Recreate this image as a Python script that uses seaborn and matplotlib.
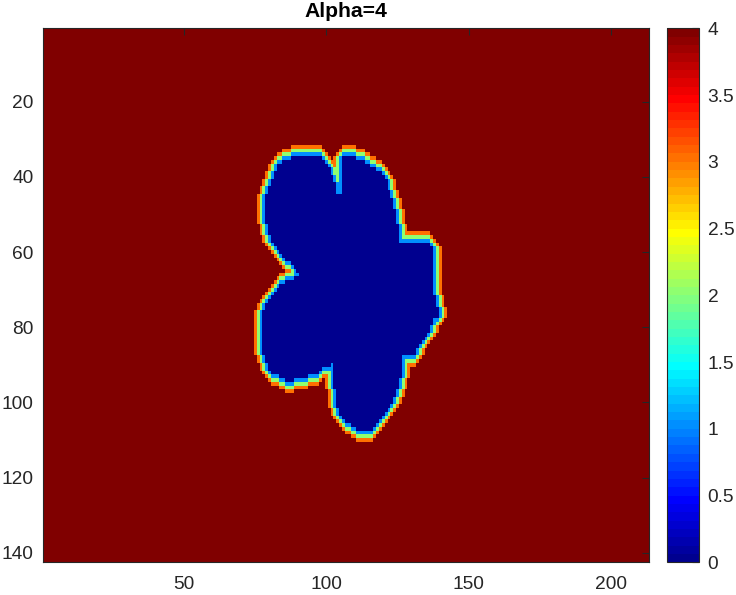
import numpy as np
import matplotlib
matplotlib.use("Agg")
import matplotlib.pyplot as plt
from matplotlib.colors import ListedColormap
from matplotlib.path import Path
import seaborn as sns

sns.set_style("white")
plt.rcParams['font.family'] = ['Liberation Sans', 'DejaVu Sans']

# grid size (rows x columns) and the value levels
n_rows = 142
n_cols = 213
inside_value = 0
outside_value = 4

# outline of the zero region (x = column, y = row)
blob_x = [89.6, 97.8, 98.9, 100.7, 101.9, 103.0, 103.6, 105.4, 105.4, 110.7,
          110.7, 114.7, 116.5, 118.8, 120.6, 121.8, 123.0, 124.1, 125.3, 125.9,
          135.8, 137.6, 137.6, 138.8, 139.3, 137.6, 136.4, 134.6, 132.3, 131.1,
          131.1, 126.5, 126.5, 125.3, 124.2, 123.0, 121.3, 119.5, 117.7, 116.0,
          112.4, 109.5, 107.2, 105.4, 104.2, 103.6, 103.0, 102.7, 102.6, 99.6,
          97.8, 94.8, 90.1, 86.1, 83.7, 81.3, 79.6, 78.4, 77.3, 77.3,
          78.4, 79.6, 81.3, 84.3, 90.5, 86.1, 83.1, 80.8, 79.6, 78.4,
          78.4, 79.6, 80.8, 81.9, 83.1, 85.4]
blob_y = [34.4, 34.4, 35.5, 37.3, 39.1, 41.7, 44.4, 44.4, 34.4, 34.4,
          35.3, 36.4, 37.3, 38.6, 39.9, 42.6, 45.3, 48.8, 53.3, 57.4,
          57.4, 59.5, 70.9, 72.8, 77.2, 78.1, 80.7, 83.0, 85.6, 86.5,
          87.8, 87.8, 92.7, 95.8, 97.6, 100.2, 102.0, 103.8, 106.0, 107.5,
          107.5, 106.5, 105.5, 104.2, 102.5, 100.7, 96.7, 90.9, 89.7, 90.5,
          91.8, 92.7, 93.6, 94.5, 93.2, 92.3, 90.9, 88.3, 86.5, 75.9,
          74.5, 72.8, 71.0, 68.6, 66.3, 62.1, 59.5, 56.8, 54.1, 50.0,
          46.2, 43.5, 40.8, 38.2, 36.4, 35.5]

x_ticks = [50, 100, 150, 200]
y_ticks = [20, 40, 60, 80, 100, 120, 140]
cbar_ticks = [0, 0.5, 1, 1.5, 2, 2.5, 3, 3.5, 4]


def matlab_jet(m=64):
    n = int(np.ceil(m / 4))
    u = np.concatenate([np.arange(1, n + 1) / n, np.ones(n - 1), np.arange(n, 0, -1) / n])
    g = int(np.ceil(n / 2)) - int(m % 4 == 1) + np.arange(1, len(u) + 1)
    r = g + n
    b = g - n
    J = np.zeros((m, 3))
    J[r[r <= m] - 1, 0] = u[r <= m]
    J[g[g <= m] - 1, 1] = u[g <= m]
    J[b[b >= 1] - 1, 2] = u[b >= 1]
    return ListedColormap(J)


# rasterize the outline on cell centres
cols, rows = np.meshgrid(np.arange(1, n_cols + 1), np.arange(1, n_rows + 1))
pts = np.column_stack([cols.ravel(), rows.ravel()])
inside = Path(np.column_stack([blob_x, blob_y])).contains_points(pts).reshape(n_rows, n_cols)

# rings around the region: 1, 2, 3 (4-neighbour steps), rest is 4
field = np.full((n_rows, n_cols), float(outside_value))
field[inside] = inside_value
mask = inside.copy()
for k in range(1, outside_value):
    grown = mask.copy()
    grown[1:, :] |= mask[:-1, :]
    grown[:-1, :] |= mask[1:, :]
    grown[:, 1:] |= mask[:, :-1]
    grown[:, :-1] |= mask[:, 1:]
    field[grown & ~mask] = k
    mask = grown

fig = plt.figure(figsize=(7.36, 5.95), dpi=100)
ax = fig.add_axes([0.0588, 0.0550, 0.8234, 0.8974])
cax = fig.add_axes([0.9067, 0.0550, 0.0435, 0.8974])

sns.heatmap(field, ax=ax, cbar_ax=cax, cmap=matlab_jet(64), vmin=0, vmax=4,
            xticklabels=False, yticklabels=False)

edge = '#262626'
ax.set_axisbelow(False)
for s in ax.spines.values():
    s.set_visible(True)
    s.set_color(edge)
    s.set_linewidth(0.8)

ax.set_xticks([v - 0.5 for v in x_ticks])
ax.set_xticklabels([str(v) for v in x_ticks])
ax.set_yticks([v - 0.5 for v in y_ticks])
ax.set_yticklabels([str(v) for v in y_ticks], rotation=0)
ax.tick_params(axis='both', direction='in', length=5, width=0.8, color=edge,
               labelcolor=edge, labelsize=13.8, top=True, right=True)
ax.tick_params(axis='x', pad=10)
ax.tick_params(axis='y', pad=7)

ax.set_title("Alpha=4", fontsize=15.2, fontweight='bold', color='black', pad=8)

cbar = ax.collections[0].colorbar
cbar.outline.set_visible(True)
cbar.outline.set_linewidth(0.8)
cbar.outline.set_edgecolor(edge)
cbar.set_ticks(cbar_ticks)
cbar.set_ticklabels(['0', '0.5', '1', '1.5', '2', '2.5', '3', '3.5', '4'])
cax.tick_params(direction='in', length=5, width=0.8, color=edge, labelcolor=edge,
                labelsize=13.8, right=True, left=False, pad=6)

fig.savefig("out.png", dpi=100)
